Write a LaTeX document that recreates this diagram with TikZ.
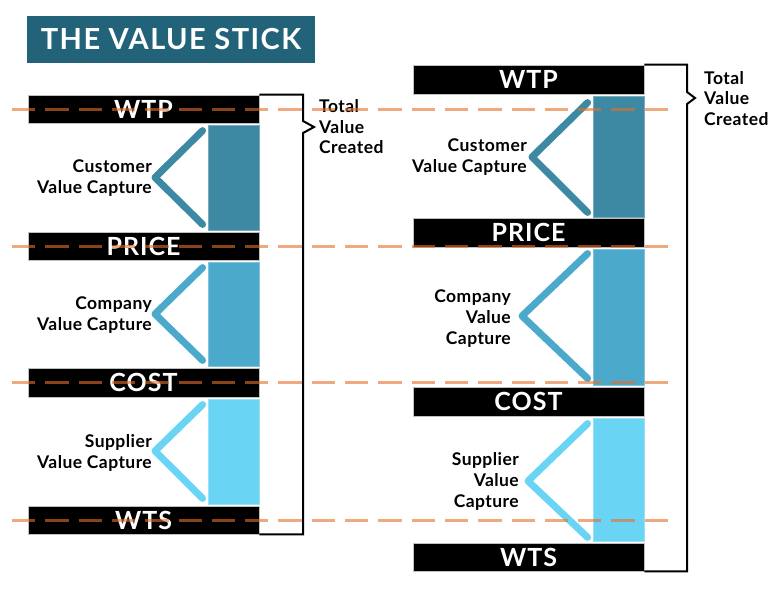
\documentclass[tikz,border=0pt]{standalone}
\usepackage{fontspec}
\setmainfont{Lato}
\usepackage{tikz}
\usepackage{xcolor}

\definecolor{titleteal}{HTML}{23637A}
\definecolor{custblue}{HTML}{3D88A3}
\definecolor{compblue}{HTML}{4BA9CC}
\definecolor{suppblue}{HTML}{69D4F4}
\definecolor{guideorange}{HTML}{E66E28}

\begin{document}
\begin{tikzpicture}[x=1pt,y=-1pt,
    bar/.style={fill=black,draw=black!25,line width=0.8pt,minimum width=231pt,
        minimum height=28pt,inner sep=0pt,text=white,
        font=\bfseries\fontsize{25}{25}\selectfont\addfontfeature{LetterSpace=4}},
    slab/.style={fill=#1,draw=#1!70!white,line width=0.8pt,minimum width=51pt,inner sep=0pt},
    chev/.style={draw=#1,line width=7pt,line cap=round,line join=round},
    lbl/.style={anchor=east,align=right,inner sep=0pt,
        font=\bfseries\fontsize{17.5}{21}\selectfont\addfontfeature{LetterSpace=2.5}},
    total/.style={anchor=west,align=left,inner sep=0pt,
        font=\bfseries\fontsize{17.5}{20.5}\selectfont\addfontfeature{LetterSpace=2.5}},
    brace/.style={line width=2pt},
    guide/.style={draw=guideorange,opacity=0.6,line width=3pt,dash pattern=on 23.3pt off 10pt}]
    \useasboundingbox (0,0) rectangle (782,592);

    % Title
    \node[fill=titleteal,minimum width=288pt,minimum height=47pt,inner sep=0pt,text=white,
        font=\bfseries\fontsize{29}{29}\selectfont\addfontfeature{LetterSpace=5}] (title) at (171,39.5) {THE VALUE STICK};

    % Left stick
    \node[bar] (wtpL) at (143.5,109) {WTP};
    \node[bar] (priceL) at (143.5,246) {PRICE};
    \node[bar,minimum height=29pt] (costL) at (143.5,382.5) {COST};
    \node[bar] (wtsL) at (143.5,520) {WTS};

    \node[slab=custblue,minimum height=105pt] (custL) at (233.5,177.5) {};
    \node[slab=compblue,minimum height=104pt] (compL) at (233.5,314) {};
    \node[slab=suppblue,minimum height=105pt] (suppL) at (233.5,451.5) {};

    \draw[chev=custblue] ([shift={(-5,6)}]custL.north west) -- (155,177.5) -- ([shift={(-5,-6)}]custL.south west);
    \draw[chev=compblue] ([shift={(-5,6)}]compL.north west) -- (155,314) -- ([shift={(-5,-6)}]compL.south west);
    \draw[chev=suppblue] ([shift={(-5,6)}]suppL.north west) -- (155,451) -- ([shift={(-5,-6)}]suppL.south west);

    \node[lbl] (custtxtL) at (152,178.5) {Customer\\Value Capture};
    \node[lbl] (comptxtL) at (152,315.5) {Company\\Value Capture};
    \node[lbl] (supptxtL) at (152,452.5) {Supplier\\Value Capture};

    \node[total] (totL) at (319,127) {Total\\Value\\Created};
    \coordinate (tipL) at (314,127);
    \draw[brace] (wtpL.north east) -| (303,121) -- (tipL) -- (303,133) |- (wtsL.south east);

    % Right stick
    \node[bar,minimum height=29pt] (wtpR) at (528.5,79.5) {WTP};
    \node[bar,minimum height=29pt] (priceR) at (528.5,232.5) {PRICE};
    \node[bar,minimum height=29pt] (costR) at (528.5,401.5) {COST};
    \node[bar] (wtsR) at (528.5,557) {WTS};

    \node[slab=custblue,minimum height=121pt] (custR) at (618.5,156.5) {};
    \node[slab=compblue,minimum height=136pt] (compR) at (618.5,317) {};
    \node[slab=suppblue,minimum height=123pt] (suppR) at (618.5,479.5) {};

    \draw[chev=custblue] ([shift={(-5,7)}]custR.north west) -- (532,157) -- ([shift={(-5,-5)}]custR.south west);
    \draw[chev=compblue] ([shift={(-5,5)}]compR.north west) -- (522,316) -- ([shift={(-5,-7)}]compR.south west);
    \draw[chev=suppblue] ([shift={(-5,6)}]suppR.north west) -- (528,481) -- ([shift={(-5,-4)}]suppR.south west);

    \node[lbl] (custtxtR) at (527,157.5) {Customer\\Value Capture};
    \node[lbl] (comptxtR) at (511,318.5) {Company\\Value\\Capture};
    \node[lbl] (supptxtR) at (519,481.5) {Supplier\\Value\\Capture};

    \node[total] (totR) at (704,98.5) {Total\\Value\\Created};
    \coordinate (tipR) at (695,98);
    \draw[brace] (wtpR.north east) -| (687,92) -- (tipR) -- (687,104) |- (wtsR.south east);

    % Guide lines
    \coordinate (g1a) at (12,109);  \coordinate (g1b) at (669,109);
    \coordinate (g2a) at (12,246);  \coordinate (g2b) at (669,246);
    \coordinate (g3a) at (12,382);  \coordinate (g3b) at (669,382);
    \coordinate (g4a) at (12,520);  \coordinate (g4b) at (669,520);
    \draw[guide] (g1a) -- (g1b);
    \draw[guide] (g2a) -- (g2b);
    \draw[guide] (g3a) -- (g3b);
    \draw[guide] (g4a) -- (g4b);
\end{tikzpicture}
\end{document}
